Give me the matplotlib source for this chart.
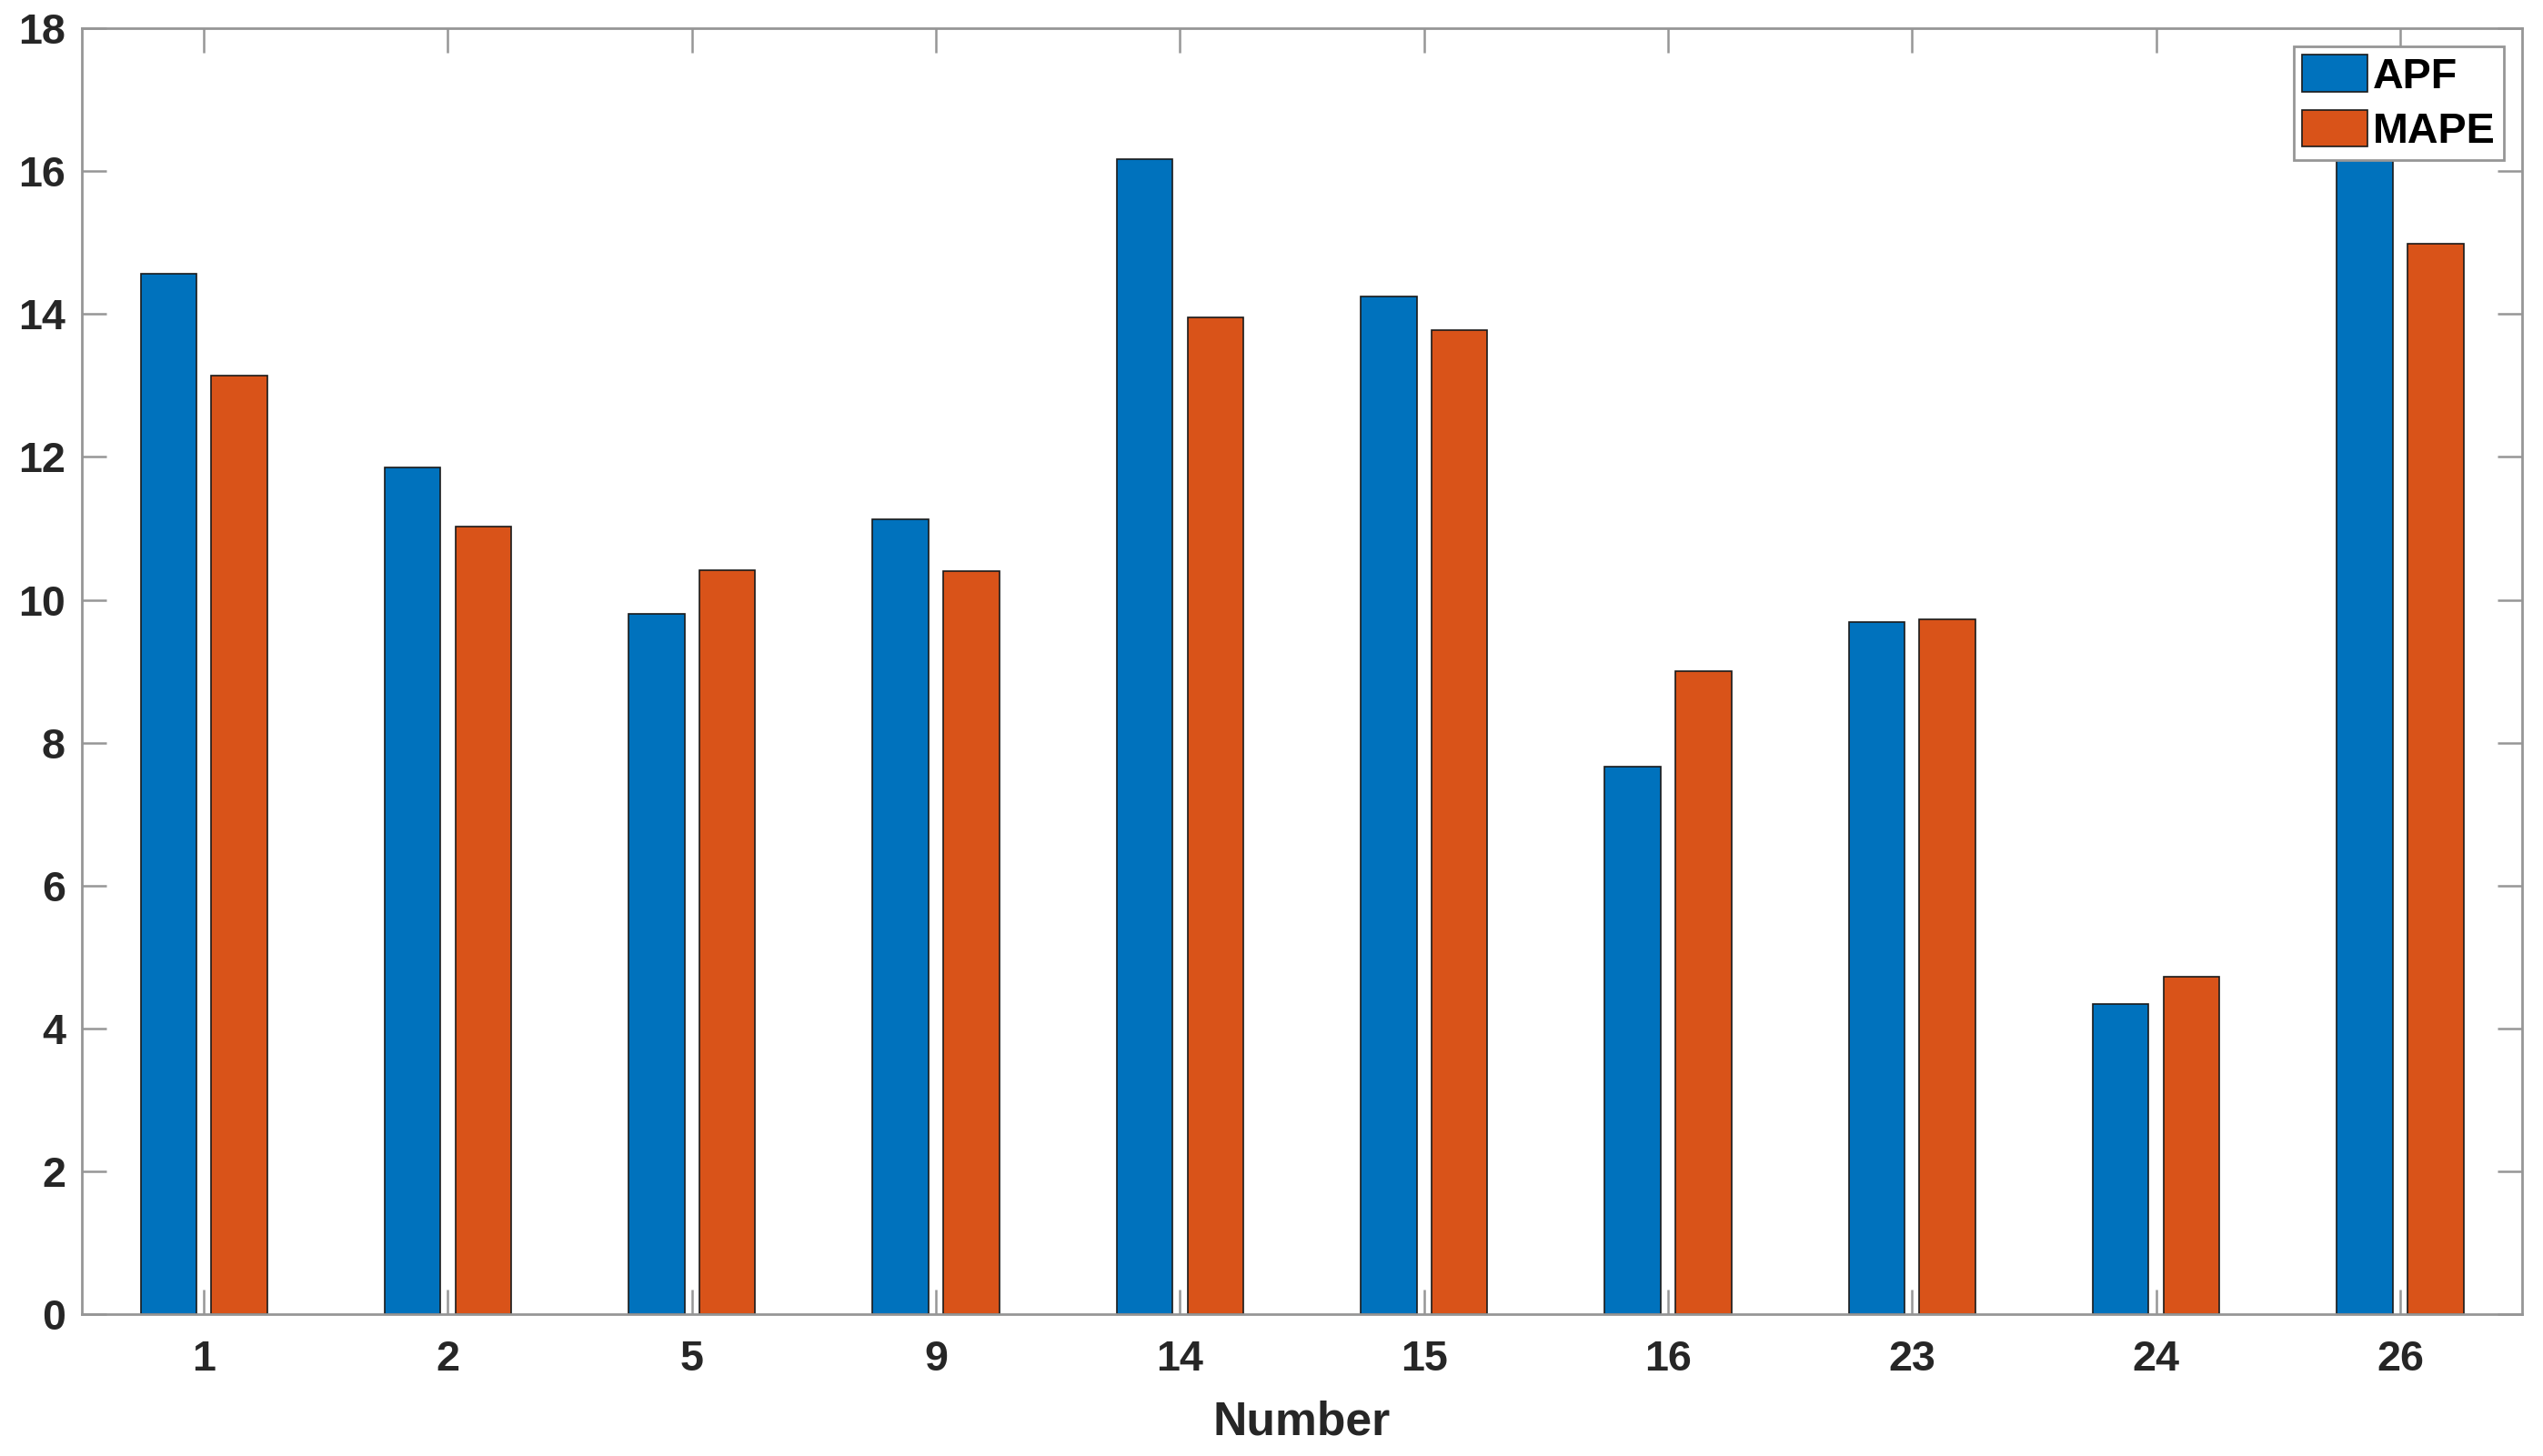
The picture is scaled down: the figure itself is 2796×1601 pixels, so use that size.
import numpy as np
import matplotlib
matplotlib.use("Agg")
import matplotlib.pyplot as plt

# data
numbers = ["1", "2", "5", "9", "14", "15", "16", "23", "24", "26"]
apf = [14.57, 11.85, 9.80, 11.13, 16.17, 14.24, 7.67, 9.69, 4.34, 17.0]
mape = [13.14, 11.03, 10.42, 10.40, 13.95, 13.78, 9.00, 9.73, 4.72, 14.99]

plt.rcParams['font.family'] = ['Liberation Sans', 'DejaVu Sans']
plt.rcParams['font.weight'] = 'bold'

fig = plt.figure(figsize=(13.98, 8.005), dpi=200)
ax = fig.add_axes([0.0322, 0.0974, 0.9596, 0.8832])

x = np.arange(1, len(numbers) + 1)
w = 0.229
off = 0.145
ax.bar(x - off, apf, w, color='#0072BD', edgecolor='#1a1a1a', linewidth=0.6, label='APF')
ax.bar(x + off, mape, w, color='#D95319', edgecolor='#1a1a1a', linewidth=0.6, label='MAPE')

ax.set_xlim(0.5, 10.5)
ax.set_ylim(0, 18)
ax.set_yticks(np.arange(0, 19, 2))
ax.set_xticks(x)
ax.set_xticklabels(numbers)

gray = '#969696'
for s in ax.spines.values():
    s.set_color(gray)
    s.set_linewidth(1.0)
ax.tick_params(direction='in', length=9.7, width=0.9, color=gray,
               top=True, right=True, labelsize=16.8, labelcolor='#262626')
ax.tick_params(axis='x', pad=10)
ax.tick_params(axis='y', pad=6.5)
for lab in ax.get_xticklabels() + ax.get_yticklabels():
    lab.set_fontweight('bold')

ax.set_xlabel('Number', fontsize=18.6, fontweight='bold', color='#262626', labelpad=8)

leg = ax.legend(loc='upper right', prop={'weight': 'bold', 'size': 16.8},
                handlelength=1.55, handleheight=0.95, handletextpad=0.12,
                labelspacing=0.3, borderpad=0.2, borderaxespad=0.43,
                fancybox=False, framealpha=1, edgecolor=gray)
leg.get_frame().set_linewidth(1.0)

fig.savefig('out.png', dpi=200)
